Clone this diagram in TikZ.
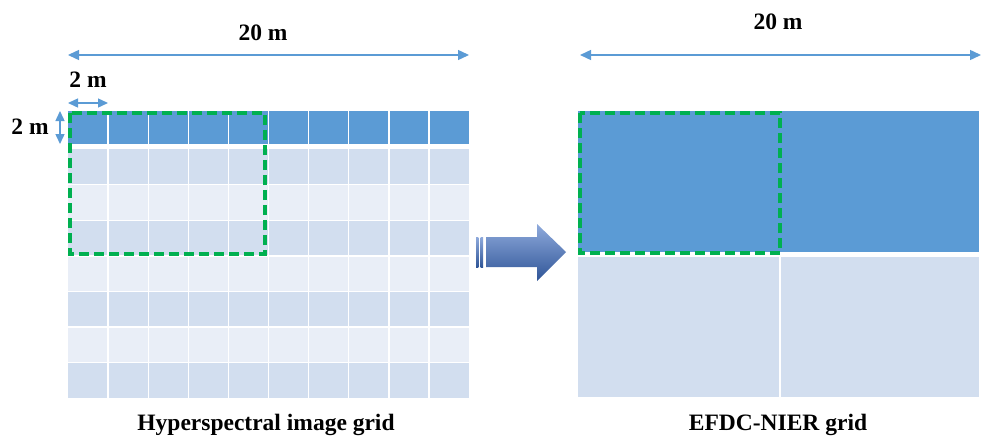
\documentclass[tikz,border=0pt]{standalone}
\usepackage{fontspec}
\setmainfont{Liberation Serif}
\usetikzlibrary{arrows.meta}
\definecolor{cellblue}{HTML}{5B9BD5}
\definecolor{celldark}{HTML}{D2DEEF}
\definecolor{celllight}{HTML}{E9EEF7}
\definecolor{boxgreen}{HTML}{00B050}
\definecolor{arrtop}{HTML}{8FAADC}
\definecolor{arrbot}{HTML}{2F5597}
\tikzset{
  dim/.style={draw=cellblue, line width=1.4pt, {Triangle[length=11pt,width=10pt]}-{Triangle[length=11pt,width=10pt]}},
  lbl/.style={font=\bfseries\fontsize{23.5}{26}\selectfont, inner sep=0pt},
  zone/.style={draw=boxgreen, line width=3.6pt, dash pattern=on 10pt off 5pt},
  sep/.style={draw=white, line width=1.4pt}
}
\begin{document}
\begin{tikzpicture}[x=1pt,y=-1pt]
    \useasboundingbox (0,0) rectangle (984,439);
    % Hyperspectral image grid
    \fill[cellblue] (68,111) rectangle (469,144);
    \foreach \r/\c in {1/celldark,2/celllight,3/celldark,4/celllight,5/celldark,6/celllight,7/celldark}
        \fill[\c] (68,{149+(\r-1)*35.6}) rectangle (469,{149+\r*35.6});
    \foreach \r in {1,...,6} \draw[sep] (68,{149+\r*35.6}) -- (469,{149+\r*35.6});
    \foreach \k in {1,...,9} \draw[sep] ({68+\k*40.1},111) -- ({68+\k*40.1},398);
    \draw[zone] (70,113) rectangle (265,254); % 10 m x 10 m
    % mides
    \coordinate (wLa) at (68,55); \coordinate (wLb) at (469,55);
    \draw[dim] (wLa) -- (wLb);
    \node[lbl] (wLtxt) at (263,33) {20 m};
    \coordinate (cxa) at (68,103); \coordinate (cxb) at (108,103);
    \draw[dim, {Triangle[length=10pt,width=9pt]}-{Triangle[length=10pt,width=9pt]}] (cxa) -- (cxb);
    \node[lbl] (cxtxt) at (88,80) {2 m};
    \coordinate (cya) at (60,111); \coordinate (cyb) at (60,144);
    \draw[dim, {Triangle[length=10pt,width=9pt]}-{Triangle[length=10pt,width=9pt]}] (cya) -- (cyb);
    \node[lbl] (cytxt) at (30,127) {2 m};
    \node[lbl] (capL) at (266,425) {Hyperspectral image grid};
    % fletxa central
    \shade[top color=arrtop, bottom color=arrbot] (476,237) rectangle (478.3,267);
    \shade[top color=arrtop, bottom color=arrbot] (480.7,237) rectangle (483,267);
    \shade[top color=arrtop, bottom color=arrbot] (486,237) -- (537,237) -- (537,224) -- (566,252) -- (537,281) -- (537,267) -- (486,267) -- cycle;
    % EFDC-NIER grid
    \fill[cellblue] (578,111) rectangle (979,252);
    \fill[celldark] (578,257) rectangle (979,397);
    \draw[sep] (780,257) -- (780,397);
    \draw[zone] (580,113) rectangle (780,253);
    \coordinate (wRa) at (580,55); \coordinate (wRb) at (981,55);
    \draw[dim] (wRa) -- (wRb);
    \node[lbl] (wRtxt) at (778,22) {20 m};
    \node[lbl] (capR) at (778,425) {EFDC-NIER grid};
\end{tikzpicture}
\end{document}
